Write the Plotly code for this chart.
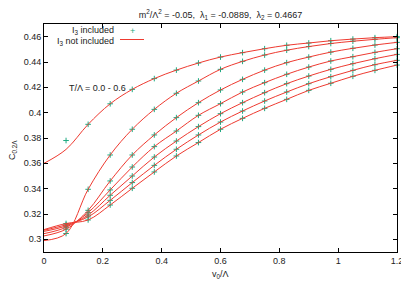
import plotly.graph_objects as go

# v0/Lambda sample positions (curve includes v0 = 0)
v0 = [0.0, 0.075, 0.15, 0.225, 0.3, 0.375, 0.45, 0.525, 0.6, 0.675, 0.75,
      0.825, 0.9, 0.975, 1.05, 1.125, 1.2]
v0_pts = [0.075, 0.15, 0.225, 0.3, 0.375, 0.45, 0.525, 0.6, 0.675, 0.75,
          0.825, 0.9, 0.975, 1.05, 1.125, 1.2]

# "I3 not included" curves, T/Lambda = 0.0 ... 0.6
curve_T00 = [0.360, 0.371, 0.3908, 0.4070, 0.4184, 0.4269, 0.4336, 0.4392, 0.4439,
             0.4474, 0.4505, 0.4532, 0.4550, 0.4568, 0.4581, 0.4592, 0.4600]
curve_T01 = [0.299, 0.3046, 0.3395, 0.3666, 0.3869, 0.4026, 0.4153, 0.4250, 0.4342,
             0.4405, 0.4455, 0.4493, 0.4522, 0.4546, 0.4564, 0.4579, 0.4592]
curve_T02 = [0.3027, 0.3080, 0.3229, 0.3461, 0.3666, 0.3824, 0.3961, 0.4079, 0.4179,
             0.4263, 0.4336, 0.4395, 0.4439, 0.4478, 0.4508, 0.4534, 0.4555]
curve_T03 = [0.3045, 0.3095, 0.3211, 0.3390, 0.3571, 0.3732, 0.3855, 0.3979, 0.4071,
             0.4163, 0.4237, 0.4303, 0.4360, 0.4408, 0.4442, 0.4476, 0.4505]
curve_T04 = [0.3063, 0.3106, 0.3192, 0.3348, 0.3500, 0.3650, 0.3776, 0.3890, 0.3992,
             0.4079, 0.4158, 0.4229, 0.4289, 0.4342, 0.4387, 0.4426, 0.4460]
curve_T05 = [0.3072, 0.3115, 0.3177, 0.3308, 0.3448, 0.3584, 0.3711, 0.3824, 0.3926,
             0.4013, 0.4092, 0.4163, 0.4229, 0.4284, 0.4334, 0.4379, 0.4413]
curve_T06 = [0.3077, 0.3125, 0.3153, 0.3271, 0.3403, 0.3532, 0.3658, 0.3764, 0.3869,
             0.3955, 0.4034, 0.4105, 0.4176, 0.4232, 0.4287, 0.4334, 0.4376]

# "I3 included" points (same as curves except first point of T=0.0)
pts_T00 = [0.378, 0.3908, 0.4070, 0.4184, 0.4269, 0.4336, 0.4392, 0.4439,
           0.4474, 0.4505, 0.4532, 0.4550, 0.4568, 0.4581, 0.4592, 0.4600]
pts_T01 = curve_T01[1:]
pts_T02 = curve_T02[1:]
pts_T03 = curve_T03[1:]
pts_T04 = curve_T04[1:]
pts_T05 = curve_T05[1:]
pts_T06 = curve_T06[1:]

curves = [curve_T00, curve_T01, curve_T02, curve_T03, curve_T04, curve_T05, curve_T06]
points = [pts_T00, pts_T01, pts_T02, pts_T03, pts_T04, pts_T05, pts_T06]

x_ticks = [0, 0.2, 0.4, 0.6, 0.8, 1, 1.2]
x_tick_labels = ["0", "0.2", "0.4", "0.6", "0.8", "1", "1.2"]
y_ticks = [0.3, 0.32, 0.34, 0.36, 0.38, 0.4, 0.42, 0.44, 0.46]
y_tick_labels = ["0.3", "0.32", "0.34", "0.36", "0.38", "0.4", "0.42", "0.44", "0.46"]

RED = "rgb(238,58,48)"
GREEN = "rgb(30,170,130)"
FONT = "Liberation Sans"
TXT = "#222"

fig = go.Figure()
for p in points:
    fig.add_trace(go.Scatter(x=v0_pts, y=p, mode="markers",
                             marker=dict(symbol="cross-thin", size=4, line=dict(color=GREEN, width=1)),
                             showlegend=False, cliponaxis=False))
for c in curves:
    fig.add_trace(go.Scatter(x=v0, y=c, mode="lines",
                             line=dict(color=RED, width=1, shape="spline", smoothing=1.0),
                             showlegend=False, hoverinfo="skip"))

axis_common = dict(showgrid=False, zeroline=False, showline=True, linecolor="black", linewidth=1,
                   mirror="ticks", ticks="inside", ticklen=4, tickcolor="black", automargin=False,
                   tickfont=dict(family=FONT, size=9, color=TXT))

fig.update_xaxes(range=[0, 1.2], tickvals=x_ticks, ticktext=x_tick_labels, **axis_common)
fig.update_yaxes(range=[0.29, 0.47], tickvals=y_ticks, ticktext=y_tick_labels, **axis_common)

# plot area on the page in pixels: left 44, right 397, top 24, bottom 252
def px_x(p):
    return (p - 44) / 353.0

def px_y(p):
    return (252 - p) / 228.0

annotations = [
    dict(text="I<sub>3</sub> included", x=px_x(116), y=px_y(31), xref="paper", yref="paper",
         xanchor="right", yanchor="middle", showarrow=False, font=dict(family=FONT, size=9, color=TXT)),
    dict(text="I<sub>3</sub> not included", x=px_x(116), y=px_y(41), xref="paper", yref="paper",
         xanchor="right", yanchor="middle", showarrow=False, font=dict(family=FONT, size=9, color=TXT)),
    dict(text="+", x=px_x(132), y=px_y(31), xref="paper", yref="paper",
         xanchor="center", yanchor="middle", showarrow=False, font=dict(family=FONT, size=9, color=GREEN)),
    dict(text="T/Λ = 0.0 - 0.6", x=px_x(97), y=px_y(88), xref="paper", yref="paper",
         xanchor="center", yanchor="middle", showarrow=False, font=dict(family=FONT, size=9, color=TXT)),
    dict(text="v<sub>0</sub>/Λ", x=px_x(220), y=px_y(274), xref="paper", yref="paper",
         xanchor="center", yanchor="middle", showarrow=False, font=dict(family=FONT, size=9, color=TXT)),
    dict(text="C<sub>0.2Λ</sub>", x=px_x(12), y=px_y(150), xref="paper", yref="paper", textangle=-90,
         xanchor="center", yanchor="middle", showarrow=False, font=dict(family=FONT, size=9, color=TXT)),
]
shapes = [dict(type="line", xref="paper", yref="paper", x0=px_x(120), x1=px_x(144),
               y0=px_y(39.5), y1=px_y(39.5), line=dict(color=RED, width=1))]

# the page body adds an 8px offset, so the figure is 8px smaller and margins shifted
W, H = 401, 279
fig.update_layout(
    width=W, height=H,
    margin=dict(l=36, r=12, t=16, b=35, autoexpand=False),
    paper_bgcolor="white", plot_bgcolor="white",
    title=dict(text="m<sup>2</sup>/Λ<sup>2</sup> = -0.05,  λ<sub>1</sub> = -0.0889,  λ<sub>2</sub> = 0.4667",
               x=0.5, xref="paper", xanchor="center", y=1 - 7 / H, yanchor="middle",
               font=dict(family=FONT, size=9, color=TXT)),
    annotations=annotations, shapes=shapes,
    font=dict(family=FONT, size=9),
)

fig.write_html("out.html")
